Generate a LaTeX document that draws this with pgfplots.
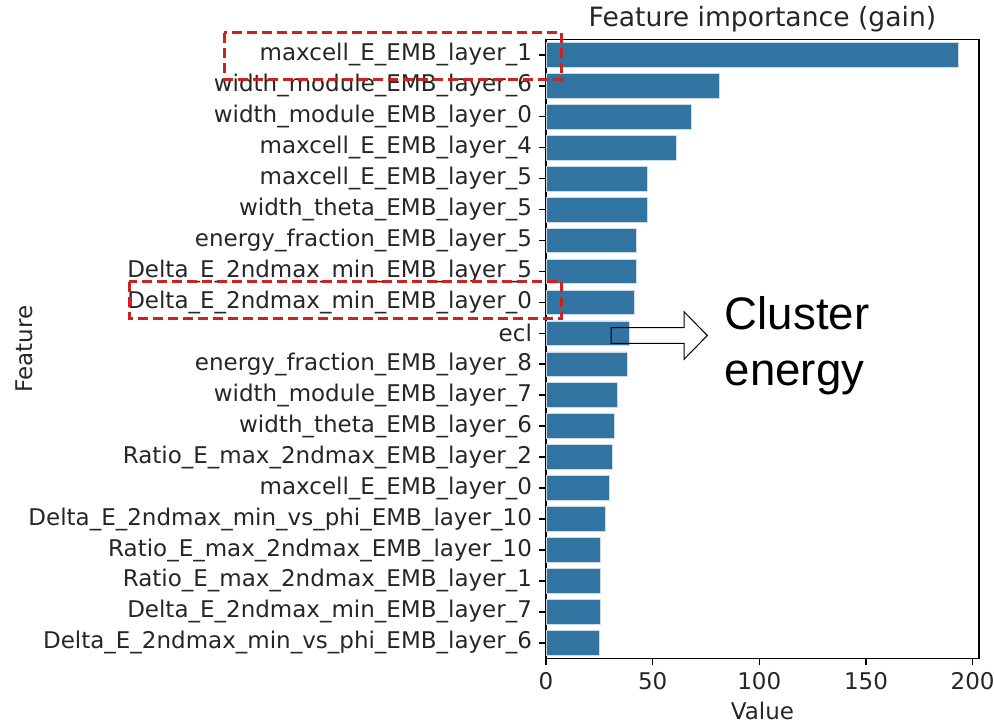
\documentclass[border=0pt]{standalone}
\usepackage{fontspec}
\setmainfont{DejaVu Sans}
\newfontfamily\calloutfont{Liberation Sans}
\usepackage{pgfplots}
\usepackage{pgfplotstable}
\pgfplotsset{compat=1.18}

\definecolor{barblue}{HTML}{3274A1}
\definecolor{boxred}{RGB}{204,34,34}

% Feature importance (gain), sorted from the largest
\pgfplotstableread{
i v
0 193.3
1 81.3
2 68.0
3 61.0
4 47.5
5 47.5
6 42.2
7 42.2
8 41.4
9 39.0
10 38.1
11 33.4
12 31.9
13 31.1
14 29.5
15 28.0
16 25.6
17 25.6
18 25.6
19 25.0
}\gaintable

\begin{document}
\begin{tikzpicture}
\useasboundingbox (0,0) rectangle (497pt,362pt);
\begin{axis}[
  at={(273pt,32.85pt)}, anchor=south west,
  scale only axis, width=216.5pt, height=309.5pt,
  xbar, bar width=0.8,
  xmin=0, xmax=203, ymin=-0.5, ymax=19.5, y dir=reverse,
  ytick={0,...,19},
  yticklabels={
    maxcell\_E\_EMB\_layer\_1,
    width\_module\_EMB\_layer\_6,
    width\_module\_EMB\_layer\_0,
    maxcell\_E\_EMB\_layer\_4,
    maxcell\_E\_EMB\_layer\_5,
    width\_theta\_EMB\_layer\_5,
    energy\_fraction\_EMB\_layer\_5,
    Delta\_E\_2ndmax\_min\_EMB\_layer\_5,
    Delta\_E\_2ndmax\_min\_EMB\_layer\_0,
    ecl,
    energy\_fraction\_EMB\_layer\_8,
    width\_module\_EMB\_layer\_7,
    width\_theta\_EMB\_layer\_6,
    Ratio\_E\_max\_2ndmax\_EMB\_layer\_2,
    maxcell\_E\_EMB\_layer\_0,
    Delta\_E\_2ndmax\_min\_vs\_phi\_EMB\_layer\_10,
    Ratio\_E\_max\_2ndmax\_EMB\_layer\_10,
    Ratio\_E\_max\_2ndmax\_EMB\_layer\_1,
    Delta\_E\_2ndmax\_min\_EMB\_layer\_7,
    Delta\_E\_2ndmax\_min\_vs\_phi\_EMB\_layer\_6},
  xtick={0,50,100,150,200},
  tick align=outside, xtick pos=bottom, ytick pos=left,
  major tick length=3.5pt,
  every tick/.style={black, line width=0.8pt},
  axis line style={line width=0.8pt},
  tick label style={font=\fontsize{11.5}{13.8}\selectfont, text=black!85},
  /pgf/number format/assume math mode=true,
  title={Feature importance (gain)},
  title style={font=\fontsize{13.3}{16}\selectfont, text=black!85,
    at={(axis description cs:0.5,1)}, anchor=base, yshift=0.3pt},
  xlabel={Value}, ylabel={Feature},
  label style={font=\fontsize{11.5}{13.8}\selectfont, text=black!85, inner sep=0pt},
  xlabel style={at={(axis description cs:0.5,0)}, anchor=base, yshift=-30.5pt},
  ylabel style={at={(axis description cs:-1.2055,0.5)}, anchor=center},
]
\addplot[fill=barblue, draw=white!75!barblue, line width=0.4pt] table[x=v, y=i] {\gaintable};
\end{axis}

% callouts, in a 994 x 724 grid measured from the top left corner
\begin{scope}[x=0.5pt, y=-0.5pt, shift={(0,362pt)}]
  \draw[boxred, line width=1.5pt, dash pattern=on 5pt off 2.5pt]
    (224.3,32.7) rectangle (561.7,79.3);
  \draw[boxred, line width=1.5pt, dash pattern=on 5pt off 2.5pt]
    (129.3,281.7) rectangle (561.7,318.3);
  \draw[black, line width=0.5pt, line join=miter]
    (611,327.7) -- (684,327.7) -- (684,311.7) -- (707.3,335.5)
    -- (684,359.3) -- (684,343.3) -- (611,343.3) -- cycle;
  \node[anchor=base west, inner sep=0pt, font=\calloutfont\fontsize{22.8}{27}\selectfont]
    at (724.5,329) {Cluster};
  \node[anchor=base west, inner sep=0pt, font=\calloutfont\fontsize{22.8}{27}\selectfont]
    at (724.5,385) {energy};
\end{scope}
\end{tikzpicture}
\end{document}
